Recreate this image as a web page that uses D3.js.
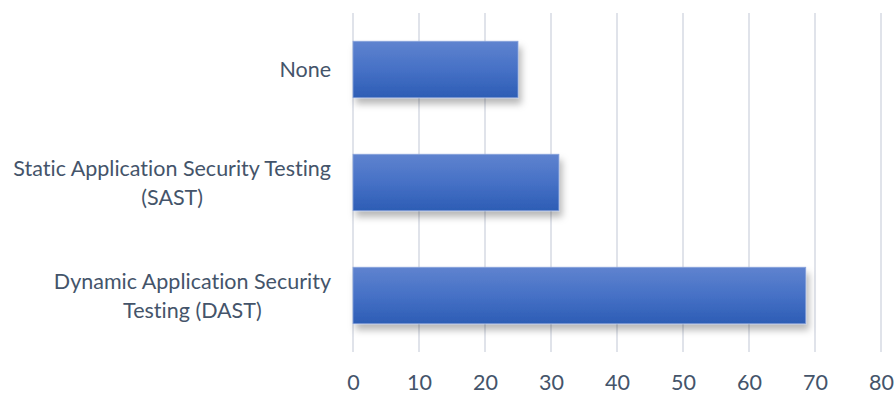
<!DOCTYPE html>
<html>
<head>
<meta charset="utf-8">
<script src="https://cdn.jsdelivr.net/npm/d3@7"></script>
<style>
  html, body { margin: 0; padding: 0; background: #ffffff; }
  svg { display: block; }
  text { font-family: Lato, "Open Sans", sans-serif; fill: #44546A; font-variant-ligatures: none; }
</style>
</head>
<body>
<svg id="chart" width="895" height="394"></svg>
<script>
// ---- data ----
const categories = ["None", "Static Application Security Testing (SAST)", "Dynamic Application Security Testing (DAST)"];
const categoryLines = [["None"], ["Static Application Security Testing", "(SAST)"], ["Dynamic Application Security", "Testing (DAST)"]];
const values = [25, 31.2, 68.6];
const xTicks = [0, 10, 20, 30, 40, 50, 60, 70, 80];

// ---- layout ----
const W = 895, H = 394;
const margin = { left: 353, right: 14, top: 13, bottom: 42 };
const svg = d3.select("#chart");

const x = d3.scaleLinear().domain([0, 80]).range([margin.left, W - margin.right]);
const y = d3.scaleBand().domain(categories).range([margin.top, H - margin.bottom])
  .paddingInner(0.5).paddingOuter(0.25);

const defs = svg.append("defs");
const grad = defs.append("linearGradient").attr("id", "barGrad")
  .attr("x1", 0).attr("y1", 0).attr("x2", 0).attr("y2", 1);
grad.append("stop").attr("offset", "0%").attr("stop-color", "#5f83cf");
grad.append("stop").attr("offset", "50%").attr("stop-color", "#4671c6");
grad.append("stop").attr("offset", "100%").attr("stop-color", "#2d5db5");

const filt = defs.append("filter").attr("id", "shadow")
  .attr("x", "-10%").attr("y", "-20%").attr("width", "130%").attr("height", "170%");
filt.append("feDropShadow").attr("dx", 3).attr("dy", 6).attr("stdDeviation", 3.5)
  .attr("flood-color", "#000").attr("flood-opacity", 0.28);

// gridlines
svg.append("g").selectAll("line").data(xTicks).join("line")
  .attr("x1", d => x(d)).attr("x2", d => x(d))
  .attr("y1", margin.top).attr("y2", H - margin.bottom)
  .attr("stroke", "#e0e3ea").attr("stroke-width", 2);

// bars
svg.append("g").selectAll("rect").data(values).join("rect")
  .attr("x", x(0))
  .attr("y", (d, i) => y(categories[i]))
  .attr("width", d => x(d) - x(0))
  .attr("height", y.bandwidth())
  .attr("fill", "url(#barGrad)")
  .attr("stroke", "#8aa5dc").attr("stroke-width", 0.8)
  .attr("filter", "url(#shadow)");

// x axis tick labels
const xAxis = d3.axisBottom(x).tickValues(xTicks).tickSize(0).tickPadding(0);
const gx = svg.append("g").attr("transform", `translate(0,${H - 12})`).call(xAxis);
gx.select(".domain").remove();
gx.selectAll("text").attr("dy", "0.35em").style("font-size", "21.5px")
  .style("font-family", "Lato, 'Open Sans', sans-serif").attr("fill", "#44546A");

// y category labels (centered multi-line block, right edge at fixed x)
const labelRight = 331;
const lineH = 29;
const gy = svg.append("g");
categories.forEach((c, i) => {
  const lines = categoryLines[i];
  const cy = y(c) + y.bandwidth() / 2;
  const t = gy.append("text").attr("text-anchor", "middle").style("font-size", "21.5px");
  lines.forEach((ln, j) => {
    t.append("tspan").attr("x", 0)
      .attr("y", cy + (j - (lines.length - 1) / 2) * lineH)
      .attr("dy", "0.35em").text(ln);
  });
  const bw = t.node().getBBox().width;
  t.attr("transform", `translate(${labelRight - bw / 2},0)`);
});
</script>
</body>
</html>
